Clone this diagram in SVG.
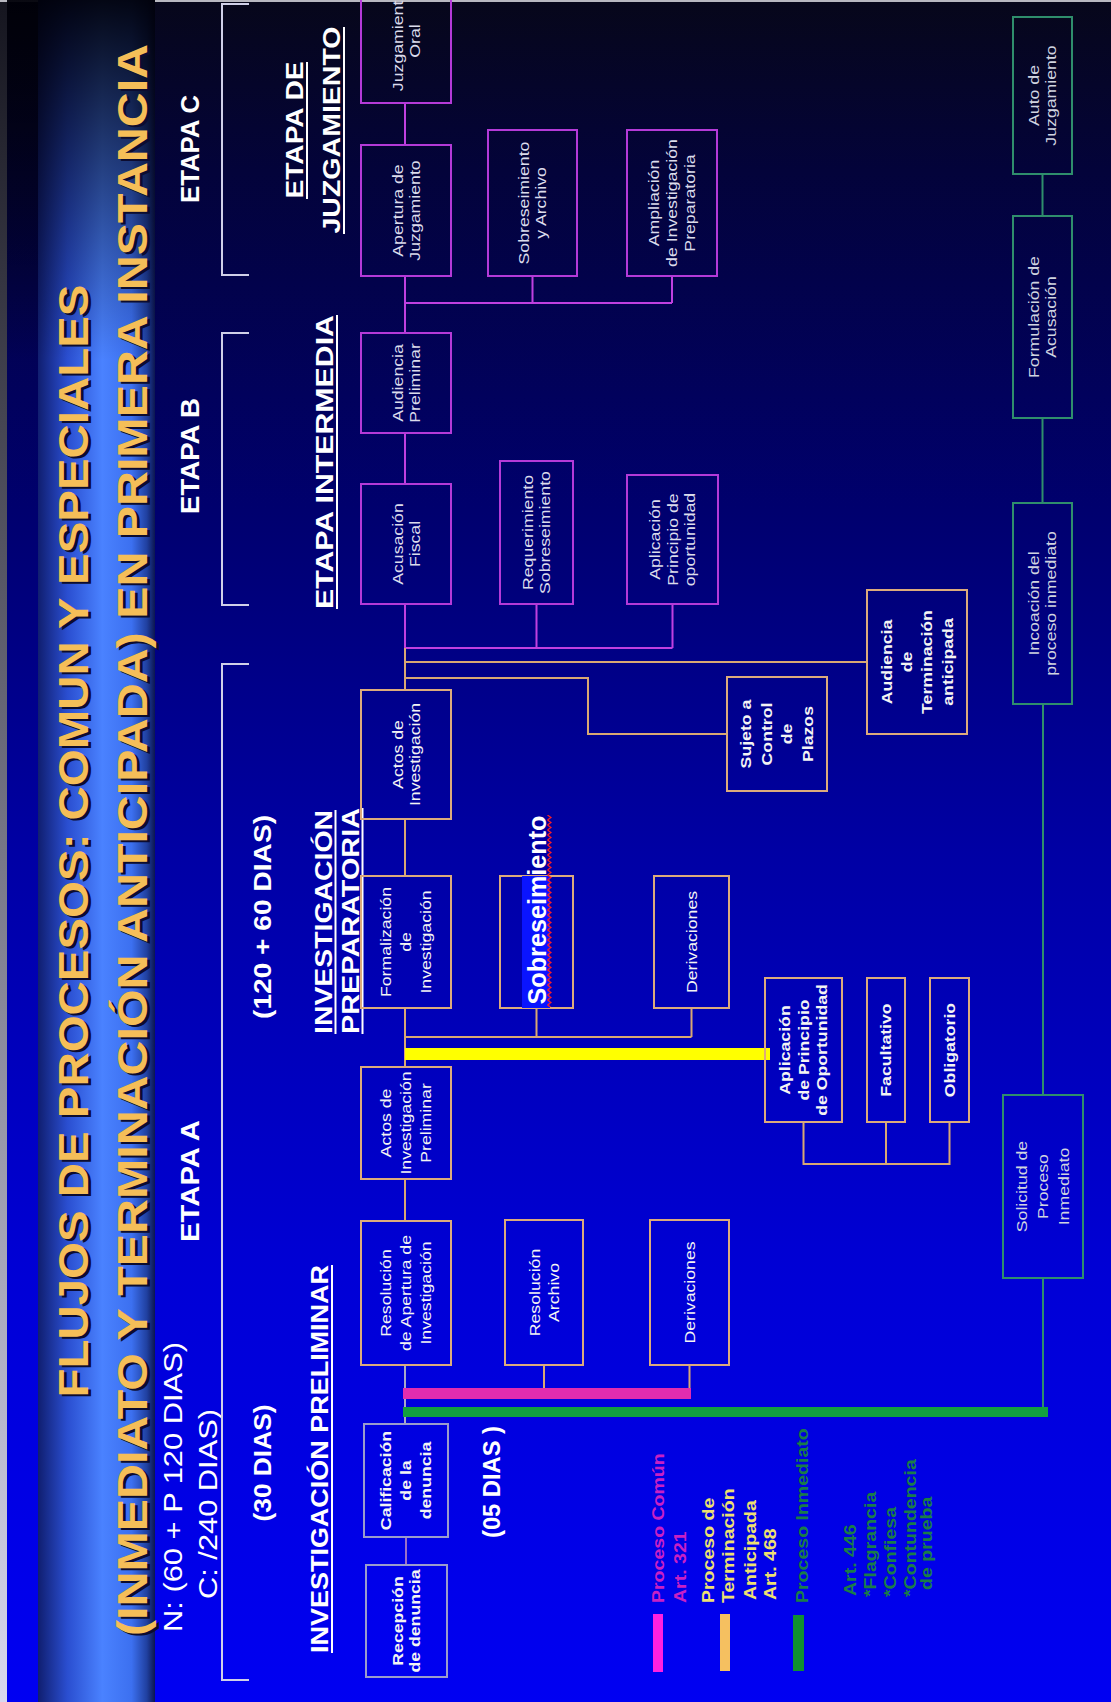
<svg xmlns="http://www.w3.org/2000/svg" width="1111" height="1702" viewBox="0 0 1111 1702">
<defs>
<linearGradient id="bgG" x1="0" y1="0" x2="0" y2="1">
<stop offset="0" stop-color="#07071a"/>
<stop offset="0.1" stop-color="#03033a"/>
<stop offset="0.3" stop-color="#00006e"/>
<stop offset="0.5" stop-color="#0000a4"/>
<stop offset="0.75" stop-color="#0000d6"/>
<stop offset="1" stop-color="#0000f2"/>
</linearGradient>
<linearGradient id="bandG" x1="0" y1="0" x2="1" y2="0">
<stop offset="0" stop-color="#101e70"/>
<stop offset="0.25" stop-color="#2a4ed0"/>
<stop offset="0.55" stop-color="#4a82ff"/>
<stop offset="0.8" stop-color="#3c70f0"/>
<stop offset="0.93" stop-color="#2040a0"/>
<stop offset="1" stop-color="#0c1650"/>
</linearGradient>
<linearGradient id="bandTop" x1="0" y1="0" x2="0" y2="1">
<stop offset="0" stop-color="#000008" stop-opacity="0.95"/>
<stop offset="1" stop-color="#000008" stop-opacity="0"/>
</linearGradient>
<linearGradient id="edgeG" x1="0" y1="0" x2="0" y2="1">
<stop offset="0" stop-color="#15151f"/>
<stop offset="1" stop-color="#d8d8ee"/>
</linearGradient>
<pattern id="wave" patternUnits="userSpaceOnUse" x="547" y="0" width="5" height="5">
<path d="M0.5,0 L4,2.5 L0.5,5" fill="none" stroke="#ff2020" stroke-width="1.2"/>
</pattern>
<style>
.bp{fill:none;stroke:#b43ad8;stroke-width:2}
.bo{fill:none;stroke:#dcaa7c;stroke-width:2}
.bgn{fill:none;stroke:#2f8e6c;stroke-width:2}
.bgr{fill:none;stroke:#9a9ccc;stroke-width:2}
.t{font-family:"Liberation Sans",Arial,sans-serif;font-size:15px;text-anchor:middle}
.tp{fill:#dcdcec}
.to{fill:#f4f4f4}
.tg{fill:#d0d4e0}
.tb{font-weight:bold}
.cp{fill:none;stroke:#c040e0;stroke-width:2}
.co{fill:none;stroke:#d9a873;stroke-width:2}
.cg{fill:none;stroke:#2f8e6c;stroke-width:2}
.h{font-family:"Liberation Sans",Arial,sans-serif;font-weight:bold;fill:#ffffff;text-anchor:middle}
.ul{stroke:#ffffff;stroke-width:2}
.lg{font-family:"Liberation Sans",Arial,sans-serif;font-weight:bold;font-size:17px;text-anchor:start}
</style>
</defs>

<rect x="0" y="0" width="1111" height="1702" fill="url(#bgG)"/>
<rect x="0" y="0" width="7" height="1702" fill="url(#edgeG)"/>
<rect x="0" y="0" width="1111" height="2" fill="#b8b8c0"/>
<rect x="38" y="0" width="117" height="1702" fill="url(#bandG)"/>
<rect x="7" y="0" width="148" height="360" fill="url(#bandTop)"/>

<g id="title" font-family="'Liberation Sans',Arial,sans-serif" font-weight="bold" font-size="42" text-anchor="middle">
<text transform="translate(90.5,843) rotate(-90)" fill="#0c0c30" textLength="1113" lengthAdjust="spacingAndGlyphs">FLUJOS DE PROCESOS: COMUN Y ESPECIALES</text>
<text transform="translate(88,841) rotate(-90)" fill="#f5be58" textLength="1113" lengthAdjust="spacingAndGlyphs">FLUJOS DE PROCESOS: COMUN Y ESPECIALES</text>
<text transform="translate(149.5,842) rotate(-90)" fill="#0c0c30" textLength="1592" lengthAdjust="spacingAndGlyphs">(INMEDIATO Y TERMINACIÓN ANTICIPADA) EN PRIMERA INSTANCIA</text>
<text transform="translate(147,840) rotate(-90)" fill="#f5be58" textLength="1592" lengthAdjust="spacingAndGlyphs">(INMEDIATO Y TERMINACIÓN ANTICIPADA) EN PRIMERA INSTANCIA</text>
</g>

<g id="headers">
<text class="h" style="font-weight:normal" font-size="26" transform="translate(182,1487) rotate(-90)" textLength="290" lengthAdjust="spacingAndGlyphs">N: (60 + P 120 DIAS)</text>
<text class="h" style="font-weight:normal" font-size="26" transform="translate(217,1504) rotate(-90)" textLength="190" lengthAdjust="spacingAndGlyphs">C: /240 DIAS)</text>
<text class="h" font-size="26" transform="translate(199,1181) rotate(-90)" textLength="122" lengthAdjust="spacingAndGlyphs">ETAPA A</text>
<text class="h" font-size="26" transform="translate(199,456) rotate(-90)" textLength="116" lengthAdjust="spacingAndGlyphs">ETAPA B</text>
<text class="h" font-size="26" transform="translate(199,149) rotate(-90)" textLength="108" lengthAdjust="spacingAndGlyphs">ETAPA C</text>
<text class="h" font-size="23" transform="translate(271,1463) rotate(-90)" textLength="117" lengthAdjust="spacingAndGlyphs">(30 DIAS)</text>
<text class="h" font-size="23" transform="translate(271,917) rotate(-90)" textLength="204" lengthAdjust="spacingAndGlyphs">(120 + 60 DIAS)</text>
<text class="h" font-size="24" transform="translate(500,1482) rotate(-90)" textLength="112" lengthAdjust="spacingAndGlyphs">(05 DIAS )</text>
<text class="h" font-size="24" transform="translate(328,1459) rotate(-90)" textLength="388" lengthAdjust="spacingAndGlyphs">INVESTIGACIÓN PRELIMINAR</text>
<line class="ul" x1="332" y1="1265" x2="332" y2="1653"/>
<text class="h" font-size="24" transform="translate(332,922) rotate(-90)" textLength="224" lengthAdjust="spacingAndGlyphs">INVESTIGACIÓN</text>
<line class="ul" x1="335.5" y1="810" x2="335.5" y2="1034"/>
<text class="h" font-size="24" transform="translate(359,921) rotate(-90)" textLength="226" lengthAdjust="spacingAndGlyphs">PREPARATORIA</text>
<line class="ul" x1="362.5" y1="808" x2="362.5" y2="1034"/>
<text class="h" font-size="24" transform="translate(333,462) rotate(-90)" textLength="294" lengthAdjust="spacingAndGlyphs">ETAPA INTERMEDIA</text>
<line class="ul" x1="337" y1="315" x2="337" y2="609"/>
<text class="h" font-size="24" transform="translate(303,130) rotate(-90)" textLength="137" lengthAdjust="spacingAndGlyphs">ETAPA DE</text>
<line class="ul" x1="307" y1="62" x2="307" y2="199"/>
<text class="h" font-size="24" transform="translate(340,130) rotate(-90)" textLength="207" lengthAdjust="spacingAndGlyphs">JUZGAMIENTO</text>
<line class="ul" x1="344" y1="27" x2="344" y2="234"/>
</g>

<g id="brackets" fill="none" stroke="#d0d0e8" stroke-width="2">
<path d="M249,4 H222 V275 H249"/>
<path d="M249,333 H222 V605 H249"/>
<path d="M249,664 H222 V1680 H249"/>
</g>

<g id="connectors">
<path class="cp" d="M405,103 V145 M405,276 V333 M405,303 H672 M532.5,276 V303 M672,276 V303 M405,433 V484 M405,604 V648 M405,648 H672.5 M536.5,604 V648 M672.5,604 V648"/>
<path class="co" d="M405,648 V690 M405,662 H867 M405,678 H588 V734 H727 M405,819 V876 M405,1008 V1067 M405,1037 H691.5 M536.5,1008 V1037 M691.5,1008 V1037 M803.5,1122 V1164 H949.5 V1122 M886,1122 V1164 M405,1179 V1221 M544,1365 V1388 M689.5,1365 V1388"/>
<path d="M405,1365 V1424" fill="none" stroke="#a8a8c8" stroke-width="2"/>
<path d="M406,1537 V1565" fill="none" stroke="#9a70c8" stroke-width="2"/>
<path class="cg" d="M1042.5,174 V216 M1042.5,418 V503 M1043,704 V1095 M1043,1278 V1407"/>
<rect x="405" y="1048" width="365" height="12" fill="#ffff00"/>
<rect x="403" y="1388" width="288" height="11" fill="#e22caf"/>
<rect x="403" y="1407" width="645" height="10" fill="#12a040"/>
</g>

<g id="n-juzgamiento-oral"><rect class="bp" x="361" y="-30" width="90" height="133"/>
<text class="t tp" transform="translate(406,41) rotate(-90) scale(1.18,1)"><tspan x="0" y="-3.5">Juzgamiento</tspan><tspan x="0" y="13.5">Oral</tspan></text></g>
<g id="n-apertura"><rect class="bp" x="361" y="145" width="90" height="131"/>
<text class="t tp" transform="translate(406,210.5) rotate(-90) scale(1.18,1)"><tspan x="0" y="-3.5">Apertura de</tspan><tspan x="0" y="13.5">Juzgamiento</tspan></text></g>
<g id="n-sobreseimiento-archivo"><rect class="bp" x="488" y="130" width="89" height="146"/>
<text class="t tp" transform="translate(532.5,203) rotate(-90) scale(1.18,1)"><tspan x="0" y="-3.5">Sobreseimiento</tspan><tspan x="0" y="13.5">y Archivo</tspan></text></g>
<g id="n-ampliacion"><rect class="bp" x="627" y="130" width="90" height="146"/>
<text class="t tp" transform="translate(672,203) rotate(-90) scale(1.18,1)"><tspan x="0" y="-13">Ampliación</tspan><tspan x="0" y="5">de Investigación</tspan><tspan x="0" y="23">Preparatoria</tspan></text></g>
<g id="n-audiencia-preliminar"><rect class="bp" x="361" y="333" width="90" height="100"/>
<text class="t tp" transform="translate(406,383) rotate(-90) scale(1.18,1)"><tspan x="0" y="-3.5">Audiencia</tspan><tspan x="0" y="13.5">Preliminar</tspan></text></g>
<g id="n-acusacion"><rect class="bp" x="361" y="484" width="90" height="120"/>
<text class="t tp" transform="translate(406,544) rotate(-90) scale(1.18,1)"><tspan x="0" y="-3.5">Acusación</tspan><tspan x="0" y="13.5">Fiscal</tspan></text></g>
<g id="n-requerimiento"><rect class="bp" x="500" y="461" width="73" height="143"/>
<text class="t tp" transform="translate(536.5,532.5) rotate(-90) scale(1.18,1)"><tspan x="0" y="-3.5">Requerimiento</tspan><tspan x="0" y="13.5">Sobreseimiento</tspan></text></g>
<g id="n-aplicacion-principio"><rect class="bp" x="627" y="475" width="91" height="129"/>
<text class="t tp" transform="translate(672.5,539.5) rotate(-90) scale(1.18,1)"><tspan x="0" y="-13">Aplicación</tspan><tspan x="0" y="5">Principio de</tspan><tspan x="0" y="23">oportunidad</tspan></text></g>

<g id="n-actos-investigacion"><rect class="bo" x="361" y="690" width="90" height="129"/>
<text class="t to" transform="translate(406,754.5) rotate(-90) scale(1.18,1)"><tspan x="0" y="-3.5">Actos de</tspan><tspan x="0" y="13.5">Investigación</tspan></text></g>
<g id="n-formalizacion"><rect class="bo" x="361" y="876" width="90" height="132"/>
<text class="t to" transform="translate(406,942) rotate(-90) scale(1.18,1)"><tspan x="0" y="-15">Formalización</tspan><tspan x="0" y="5">de</tspan><tspan x="0" y="25">Investigación</tspan></text></g>
<g id="n-sobreseimiento"><rect class="bo" x="500" y="876" width="73" height="132"/>
<rect x="522" y="876" width="28" height="132" fill="#0a14ff"/>
<rect x="547" y="815" width="5" height="192" fill="url(#wave)"/>
<text class="h" font-size="26" transform="translate(546,910) rotate(-90)" textLength="189" lengthAdjust="spacingAndGlyphs">Sobreseimiento</text></g>
<g id="n-derivaciones-1"><rect class="bo" x="654" y="876" width="75" height="132"/>
<text class="t to" transform="translate(691.5,942) rotate(-90) scale(1.18,1)"><tspan x="0" y="5">Derivaciones</tspan></text></g>
<g id="n-sujeto"><rect class="bo" x="727" y="677" width="100" height="114"/>
<text class="t to tb" transform="translate(777,734) rotate(-90) scale(1.18,1)"><tspan x="0" y="-26.5">Sujeto a</tspan><tspan x="0" y="-5.5">Control</tspan><tspan x="0" y="15.5">de</tspan><tspan x="0" y="36.5">Plazos</tspan></text></g>
<g id="n-audiencia-terminacion"><rect class="bo" x="867" y="590" width="100" height="144"/>
<text class="t to tb" transform="translate(917,662) rotate(-90) scale(1.18,1)"><tspan x="0" y="-25.5">Audiencia</tspan><tspan x="0" y="-5">de</tspan><tspan x="0" y="15.5">Terminación</tspan><tspan x="0" y="36">anticipada</tspan></text></g>
<g id="n-aplicacion-oportunidad"><rect class="bo" x="765" y="978" width="77" height="144"/>
<text class="t to tb" transform="translate(803.5,1050) rotate(-90) scale(1.18,1)"><tspan x="0" y="-14">Aplicación</tspan><tspan x="0" y="5">de Principio</tspan><tspan x="0" y="24">de Oportunidad</tspan></text></g>
<g id="n-facultativo"><rect class="bo" x="867" y="978" width="38" height="144"/>
<text class="t to tb" transform="translate(886,1050) rotate(-90) scale(1.18,1)"><tspan x="0" y="5">Facultativo</tspan></text></g>
<g id="n-obligatorio"><rect class="bo" x="930" y="978" width="39" height="144"/>
<text class="t to tb" transform="translate(949.5,1050) rotate(-90) scale(1.18,1)"><tspan x="0" y="5">Obligatorio</tspan></text></g>
<g id="n-actos-preliminar"><rect class="bo" x="361" y="1067" width="90" height="112"/>
<text class="t to" transform="translate(406,1123) rotate(-90) scale(1.18,1)"><tspan x="0" y="-15">Actos de</tspan><tspan x="0" y="5">Investigación</tspan><tspan x="0" y="25">Preliminar</tspan></text></g>
<g id="n-resolucion-apertura"><rect class="bo" x="361" y="1221" width="90" height="144"/>
<text class="t to" transform="translate(406,1293) rotate(-90) scale(1.18,1)"><tspan x="0" y="-15">Resolución</tspan><tspan x="0" y="5">de Apertura de</tspan><tspan x="0" y="25">Investigación</tspan></text></g>
<g id="n-resolucion-archivo"><rect class="bo" x="505" y="1220" width="78" height="145"/>
<text class="t to" transform="translate(544,1292.5) rotate(-90) scale(1.18,1)"><tspan x="0" y="-4">Resolución</tspan><tspan x="0" y="15">Archivo</tspan></text></g>
<g id="n-derivaciones-2"><rect class="bo" x="650" y="1220" width="79" height="145"/>
<text class="t to" transform="translate(689.5,1292.5) rotate(-90) scale(1.18,1)"><tspan x="0" y="5">Derivaciones</tspan></text></g>
<g id="n-calificacion"><rect class="bgr" x="364" y="1424" width="84" height="113"/>
<text class="t to tb" transform="translate(406,1480.5) rotate(-90) scale(1.18,1)"><tspan x="0" y="-15">Calificación</tspan><tspan x="0" y="5">de la</tspan><tspan x="0" y="25">denuncia</tspan></text></g>
<g id="n-recepcion"><rect class="bgr" x="366" y="1565" width="81" height="112"/>
<text class="t to tb" transform="translate(406.5,1621) rotate(-90) scale(1.18,1)"><tspan x="0" y="-3.5">Recepción</tspan><tspan x="0" y="13.5">de denuncia</tspan></text></g>

<g id="n-auto-juzgamiento"><rect class="bgn" x="1013" y="17" width="59" height="157"/>
<text class="t tg" transform="translate(1042.5,95.5) rotate(-90) scale(1.18,1)"><tspan x="0" y="-3.5">Auto de</tspan><tspan x="0" y="13.5">Juzgamiento</tspan></text></g>
<g id="n-formulacion"><rect class="bgn" x="1013" y="216" width="59" height="202"/>
<text class="t tg" transform="translate(1042.5,317) rotate(-90) scale(1.18,1)"><tspan x="0" y="-3.5">Formulación de</tspan><tspan x="0" y="13.5">Acusación</tspan></text></g>
<g id="n-incoacion"><rect class="bgn" x="1013" y="503" width="59" height="201"/>
<text class="t tg" transform="translate(1042.5,603.5) rotate(-90) scale(1.18,1)"><tspan x="0" y="-3.5">Incoación del</tspan><tspan x="0" y="13.5">proceso inmediato</tspan></text></g>
<g id="n-solicitud"><rect class="bgn" x="1003" y="1095" width="80" height="183"/>
<text class="t tg" transform="translate(1043,1186.5) rotate(-90) scale(1.18,1)"><tspan x="0" y="-16">Solicitud de</tspan><tspan x="0" y="5">Proceso</tspan><tspan x="0" y="26">Inmediato</tspan></text></g>

<g id="legend">
<rect x="653" y="1614" width="10" height="58" fill="#ff20e0"/>
<rect x="720" y="1614" width="10" height="57" fill="#f5c060"/>
<rect x="793" y="1615" width="11" height="56" fill="#109030"/>
<g class="lg" fill="#c820c4">
<text transform="translate(664,1603) rotate(-90) scale(1.15,1)">Proceso Común</text>
<text transform="translate(686,1603) rotate(-90) scale(1.15,1)">Art. 321</text>
</g>
<g class="lg" fill="#eee070">
<text transform="translate(714,1603) rotate(-90) scale(1.15,1)">Proceso de</text>
<text transform="translate(734,1603) rotate(-90) scale(1.15,1)">Terminación</text>
<text transform="translate(756,1600) rotate(-90) scale(1.15,1)">Anticipada</text>
<text transform="translate(776,1600) rotate(-90) scale(1.15,1)">Art. 468</text>
</g>
<g class="lg" fill="#1a7c48">
<text transform="translate(808,1603) rotate(-90) scale(1.15,1)">Proceso Inmediato</text>
<text transform="translate(856,1596) rotate(-90) scale(1.15,1)">Art. 446</text>
<text transform="translate(876,1597) rotate(-90) scale(1.15,1)">*Flagrancia</text>
<text transform="translate(896,1597) rotate(-90) scale(1.15,1)">*Confiesa</text>
<text transform="translate(916,1597) rotate(-90) scale(1.15,1)">*Contundencia</text>
<text transform="translate(932,1590) rotate(-90) scale(1.15,1)">de prueba</text>
</g>
</g>
</svg>
